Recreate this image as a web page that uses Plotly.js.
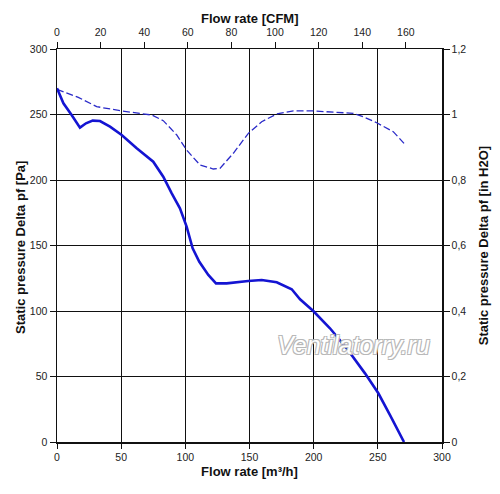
<!DOCTYPE html>
<html>
<head>
<meta charset="utf-8">
<script src="https://cdn.plot.ly/plotly-3.0.1.min.js"></script>
<style>html,body{margin:0;padding:0;background:#fff;}#chart{width:500px;height:494px;}</style>
</head>
<body>
<div id="chart"></div>
<script>
// Static pressure curve [Pa] vs flow rate [m³/h]
var pressureFlow = [0, 5, 11.4, 17.9, 22.6, 27.8, 33.5, 41.3, 50.4, 62.1, 75, 82.8, 89.4, 95.8, 101, 105.7, 110.9, 117.9, 123.9, 132.2, 149, 159.5, 171.2, 182.9, 189.4, 199.7, 212.7, 225.7, 240, 250.4, 259.5, 270.4];
var pressurePa   = [270, 258.5, 249.6, 240, 243.3, 245.3, 245, 240.7, 234.4, 224.2, 214, 202.5, 189.8, 178.4, 164.4, 147.9, 137.6, 127.5, 121.1, 121.1, 122.9, 123.7, 121.9, 116.6, 108.9, 100, 86.8, 71.5, 52.4, 37.2, 20.6, 0];
// Dashed curve
var dashFlow = [0, 16.6, 30.9, 50.4, 73.8, 82.8, 93.3, 101, 111.4, 121.8, 127, 137.4, 149.1, 159.5, 171.2, 184.2, 199.7, 215.3, 230.9, 238.7, 249.1, 262, 270.4];
var dashPa   = [269.2, 263.1, 256, 252.7, 249.6, 245.3, 234.4, 222.9, 211.5, 208.4, 208.9, 220.4, 235.6, 244.5, 250.4, 252.7, 252.7, 251.7, 250.9, 248.3, 243.7, 236.9, 228];
// Axis ticks
var flowTicks = [0, 50, 100, 150, 200, 250, 300];
var paTicks = [0, 50, 100, 150, 200, 250, 300];
var cfmTicks = [0, 20, 40, 60, 80, 100, 120, 140, 160];
var inH2OTicks = [0, 0.2, 0.4, 0.6, 0.8, 1, 1.2];
var inH2OLabels = ["0", "0,2", "0,4", "0,6", "0,8", "1", "1,2"];

var M3H_PER_CFM = 1.699;
var flowMax = 300;

var traces = [
  {x: dashFlow, y: dashPa, type: 'scatter', mode: 'lines', line: {color: '#2a2ac8', width: 1.3, dash: '7px,3px'}, hoverinfo: 'skip', xaxis: 'x', yaxis: 'y'},
  {x: pressureFlow, y: pressurePa, type: 'scatter', mode: 'lines', line: {color: '#1414d2', width: 2.6}, hoverinfo: 'skip', xaxis: 'x', yaxis: 'y'},
  {x: [0], y: [0], type: 'scatter', mode: 'markers', marker: {opacity: 0}, hoverinfo: 'skip', xaxis: 'x2', yaxis: 'y2', showlegend: false}
];

var tickFont = {family: 'Liberation Sans, Arial, sans-serif', size: 10.5, color: '#222'};
var titleFont = {family: 'Liberation Sans, Arial, sans-serif', size: 13, color: '#111', weight: 'bold'};

var layout = {
  width: 500, height: 494,
  margin: {l: 57, r: 58, t: 49, b: 52, pad: 0},
  paper_bgcolor: '#fff', plot_bgcolor: '#fff',
  showlegend: false,
  xaxis: {
    range: [0, flowMax], tickvals: flowTicks, ticks: 'outside', ticklen: 5, tickcolor: '#111', tickwidth: 1,
    showgrid: true, gridcolor: '#111', gridwidth: 1, zeroline: false,
    showline: true, linecolor: '#111', linewidth: 1.5,
    tickfont: tickFont, fixedrange: true,
    title: {text: 'Flow rate [m³/h]', font: titleFont, standoff: 5}
  },
  xaxis2: {
    overlaying: 'x', side: 'top', range: [0, flowMax / M3H_PER_CFM], tickvals: cfmTicks,
    ticks: 'outside', ticklen: 6, tickcolor: '#111', tickwidth: 1, ticklabelstandoff: 1,
    showgrid: false, zeroline: false, showline: true, linecolor: '#111', linewidth: 1.5,
    tickfont: tickFont, fixedrange: true
  },
  yaxis: {
    range: [0, 300], tickvals: paTicks, ticks: 'outside', ticklen: 6, tickcolor: '#111', tickwidth: 1,
    showgrid: true, gridcolor: '#111', gridwidth: 1, zeroline: false,
    showline: true, linecolor: '#111', linewidth: 1.5,
    tickfont: tickFont, fixedrange: true
  },
  yaxis2: {
    overlaying: 'y', side: 'right', range: [0, 1.2], tickvals: inH2OTicks, ticktext: inH2OLabels,
    ticks: 'outside', ticklen: 6, tickcolor: '#111', tickwidth: 1,
    showgrid: false, zeroline: false, showline: true, linecolor: '#111', linewidth: 1.5,
    tickfont: tickFont, fixedrange: true,
    title: {text: 'Static pressure Delta pf [in H2O]', font: titleFont, standoff: 13}
  },
  annotations: [
    {xref: 'paper', yref: 'paper', x: 0.5, y: 1, yshift: 31, xanchor: 'center', yanchor: 'middle',
     text: 'Flow rate [CFM]', showarrow: false, font: titleFont},
    {xref: 'paper', yref: 'paper', x: 0, y: 0.5, xshift: -37, yshift: -2.5, xanchor: 'center', yanchor: 'middle',
     textangle: -90, text: 'Static pressure Delta pf [Pa]', showarrow: false, font: titleFont},
    {xref: 'x', yref: 'y', x: 231, y: 74, text: 'Ventilatorry.ru', showarrow: false,
     font: {family: 'Liberation Sans, Arial, sans-serif', size: 25, style: 'italic', color: '#ffffff',
       shadow: '-1px -1px 0 #b8b8b8, 1px -1px 0 #b8b8b8, -1px 1px 0 #b8b8b8, 1px 1px 0 #b8b8b8'}}
  ]
};

Plotly.newPlot('chart', traces, layout, {staticPlot: true, displayModeBar: false});
</script>
</body>
</html>
